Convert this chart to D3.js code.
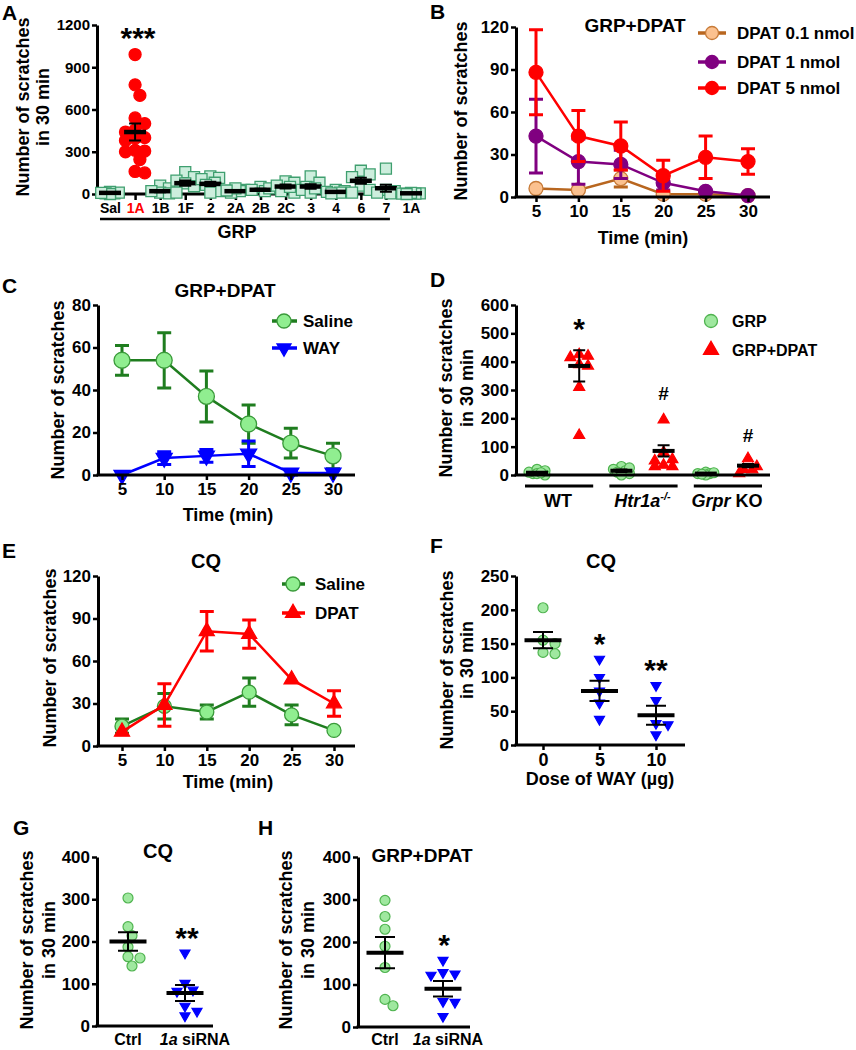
<!DOCTYPE html>
<html>
<head>
<meta charset="utf-8">
<script src="https://cdn.jsdelivr.net/npm/d3@7"></script>
<style>
  body { margin: 0; background: #fff; }
  svg { display: block; font-family: "Liberation Sans", Arial, sans-serif; font-weight: bold; }
</style>
</head>
<body>
<script>
// ---- Panel A: scratches in 30 min per receptor agonist ----
var aCats = ['Sal', '1A', '1B', '1F', '2', '2A', '2B', '2C', '3', '4', '6', '7', '1A']
var aPoints = [
  [5, 10, 15, 5, 0, 8],
  [990, 775, 700, 540, 500, 455, 440, 400, 395, 380, 310, 305, 300, 245, 150, 160],
  [60, 40, 10, 5, 20],
  [155, 120, 95, 75, 55, 10],
  [125, 115, 105, 80, 65, 20, 10],
  [30, 20, 10, 40, 25],
  [50, 30, 20, 40],
  [90, 80, 60, 20, 10, 50],
  [125, 80, 50, 30, 10, 40],
  [30, 20, 10, 15, 5],
  [165, 140, 120, 60, 30, 10],
  [180, 30, 10, 20, 5],
  [5, 3, 2, 8, 0]
]
var aMeans = [8, 440, 20, 77, 72, 20, 30, 53, 53, 15, 94, 41, 5]
var aSems = [4, 60, 8, 18, 15, 6, 8, 14, 16, 5, 22, 25, 2]
var aTicks = [0, 300, 600, 900, 1200]

// ---- Time courses (B, C, E) ----
var times = [5, 10, 15, 20, 25, 30]

var bNames = ['DPAT 0.1 nmol', 'DPAT 1 nmol', 'DPAT 5 nmol']
var bMeans = [[6, 5, 13, 2, 2, 1], [43, 25, 23, 10, 4, 1], [88, 43, 36, 15, 28, 25]]
var bSems = [[0, 0, 6, 0, 0, 0], [26, 16, 10, 5, 1, 0], [30, 18, 17, 11, 15, 9]]
var bTicks = [0, 30, 60, 90, 120]

var cNames = ['Saline', 'WAY']
var cMeans = [[54, 54, 37, 24, 15, 9], [0, 8, 9, 10, 1, 1]]
var cSems = [[7, 13, 12, 9, 7, 6], [0, 3, 3, 6, 1, 0]]
var cTicks = [0, 20, 40, 60, 80]

var eNames = ['Saline', 'DPAT']
var eMeans = [[14, 28, 24, 38, 22, 11], [10, 29, 81, 79, 47, 30]]
var eSems = [[5, 9, 5, 10, 7, 0], [0, 15, 14, 10, 0, 9]]
var eTicks = [0, 30, 60, 90, 120]

// ---- Panel D: genotypes ----
var dNames = ['GRP', 'GRP+DPAT']
var dGrpPoints = [[5, 10, 20, 15, 0, 5, 8], [30, 20, 15, 10, 5, 0, 25], [5, 10, 5, 0, 8, 3]]
var dDpatPoints = [[425, 415, 420, 385, 390, 310, 140], [195, 80, 55, 50, 35, 30, 30], [58, 30, 20, 19, 5]]
var dGrpMeans = [8, 15, 5]
var dGrpSems = [3, 4, 2]
var dDpatMeans = [385, 85, 33]
var dDpatSems = [55, 20, 6]
var dMarks = ['*', '#', '#']
var dTicks = [0, 100, 200, 300, 400, 500, 600]

// ---- Panel F: WAY dose ----
var fDoses = ['0', '5', '10']
var fPoints = [[203, 155, 150, 137, 135], [127, 100, 80, 62, 38], [88, 66, 32, 30, 15]]
var fMeans = [155, 80, 44]
var fSems = [12, 15, 14]
var fMarks = ['', '*', '**']
var fTicks = [0, 50, 100, 150, 200, 250]

// ---- Panels G, H: siRNA ----
var ghCats = ['Ctrl', 'siRNA']
var ghTicks = [0, 100, 200, 300, 400]
var gPoints = [[303, 235, 214, 187, 164, 161, 142], [173, 101, 85, 82, 47, 35, 24]]
var gMeans = [200, 78]
var gSems = [22, 19]
var hPoints = [[298, 260, 230, 190, 140, 65, 50], [157, 128, 125, 122, 60, 58, 25]]
var hMeans = [175, 90]
var hSems = [37, 18]

var GREEN_FILL = '#9fe89f', GREEN_STROKE = '#4fb34f', DARK_GREEN = '#1f7d1f'

var svg = d3.select('body').append('svg').attr('width', 856).attr('height', 1050)

// ---------- helpers ----------
function label(s, x, y, size, anchor) {
  return svg.append('text').attr('x', x).attr('y', y)
    .attr('font-size', size).attr('text-anchor', anchor || 'middle').text(s)
}

// Rotated y title, one or two lines
function yTitle(lines, cx, cy, gap) {
  lines.forEach(function(s, i) {
    svg.append('text')
      .attr('transform', 'translate(' + (cx + i * gap) + ',' + cy + ') rotate(-90)')
      .attr('text-anchor', 'middle').attr('dy', '0.36em')
      .attr('font-size', 18).text(s)
  })
}

function yAxis(y, x0, ticks, size) {
  var g = svg.append('g').attr('transform', 'translate(' + x0 + ',0)')
    .call(d3.axisLeft(y).tickValues(ticks).tickFormat(d3.format('d'))
      .tickSize(5).tickPadding(2).tickSizeOuter(0))
  g.attr('font-family', null).attr('font-size', size || 17)
  g.select('.domain').attr('stroke-width', 3)
  g.selectAll('.tick line').attr('stroke-width', 2.5)
  return g
}

function xLine(x0, x1, y0) {
  svg.append('line').attr('x1', x0 - 1.5).attr('x2', x1).attr('y1', y0).attr('y2', y0)
    .attr('stroke', '#000').attr('stroke-width', 3)
}

function xTicks(x, y0, values, fmt, size, tick) {
  var g = svg.append('g').attr('transform', 'translate(0,' + y0 + ')')
    .call(d3.axisBottom(x).tickValues(values).tickFormat(fmt).tickSize(tick).tickPadding(tick ? 3 : 8))
  g.attr('font-family', null).attr('font-size', size || 17)
  g.select('.domain').remove()
  g.selectAll('.tick line').attr('stroke-width', 2.5)
  return g
}

function sym(shape, r) {
  if (shape == 'circle') return d3.symbol(d3.symbolCircle, Math.PI * r * r)()
  if (shape == 'square') return d3.symbol(d3.symbolSquare, 4 * r * r)()
  return d3.symbol(d3.symbolTriangle, r * r * Math.sqrt(3))()
}

function place(shape, x, y) {
  return 'translate(' + x + ',' + y + ')' + (shape == 'down' ? ' rotate(180)' : '')
}

function errPath(cx, yt, yb, c) {
  return 'M' + (cx - c) + ',' + yt + 'H' + (cx + c) +
    'M' + cx + ',' + yt + 'V' + yb +
    'M' + (cx - c) + ',' + yb + 'H' + (cx + c)
}

// Spread points sideways (scatter-dot layout), never wider than maxW
function dodge(vals, y, r, maxW) {
  var order = vals.map(function(d, i) { return i }).sort(function(a, b) { return vals[b] - vals[a] })
  var placed = [], off = []
  order.forEach(function(i) {
    var py = y(vals[i]), best = 0, bestD = -1
    for (var k = 0; ; k++) {
      var o = (k % 2 ? 1 : -1) * Math.ceil(k / 2) * r * 0.8
      if (Math.abs(o) > maxW) break
      var d = d3.min(placed, function(p) { return Math.hypot(p.x - o, p.y - py) })
      if (d == null) d = Infinity
      if (d >= 1.9 * r) { best = o; bestD = Infinity; break }
      if (d > bestD) { bestD = d; best = o }
    }
    off[i] = best
    placed.push({x: best, y: py})
  })
  return off
}

function drawScatter(cx, y, vals, mean, sem, st) {
  var off = dodge(vals, y, st.r, st.spread || 12)
  svg.append('g').selectAll('path').data(vals).join('path')
    .attr('d', sym(st.shape, st.r))
    .attr('transform', function(d, i) { return place(st.shape, cx + off[i], y(d)) })
    .attr('fill', st.fill).attr('stroke', st.stroke).attr('stroke-width', st.sw || 1.2)
  svg.append('path').attr('d', errPath(cx, y(mean + sem), y(Math.max(0, mean - sem)), st.cap))
    .attr('fill', 'none').attr('stroke', '#000').attr('stroke-width', st.et)
  svg.append('line').attr('x1', cx - st.mw / 2).attr('x2', cx + st.mw / 2)
    .attr('y1', y(mean)).attr('y2', y(mean))
    .attr('stroke', '#000').attr('stroke-width', st.mt)
}

function drawSeries(x, y, vals, sems, st) {
  var g = svg.append('g')
  g.selectAll('path.err').data(vals).join('path').attr('class', 'err')
    .attr('d', function(d, i) {
      return sems[i] ? errPath(x(times[i]), y(d + sems[i]), y(Math.max(0, d - sems[i])), 7) : ''
    })
    .attr('fill', 'none').attr('stroke', st.line).attr('stroke-width', 3)
  g.append('path').datum(vals)
    .attr('fill', 'none').attr('stroke', st.line).attr('stroke-width', 2.5)
    .attr('d', d3.line().x(function(d, i) { return x(times[i]) }).y(function(d) { return y(d) }))
  g.selectAll('path.mk').data(vals).join('path').attr('class', 'mk')
    .attr('d', sym(st.shape, st.r))
    .attr('transform', function(d, i) { return place(st.shape, x(times[i]), y(d)) })
    .attr('fill', st.fill).attr('stroke', st.stroke).attr('stroke-width', 1.3)
}

function legendRow(st, mx, tx, cy, name, lx0, lx1, size) {
  if (lx0 != null) {
    svg.append('line').attr('x1', lx0).attr('x2', lx1).attr('y1', cy).attr('y2', cy)
      .attr('stroke', st.line).attr('stroke-width', 3.5)
  }
  svg.append('path').attr('d', sym(st.shape, st.lr || st.r)).attr('transform', place(st.shape, mx, cy))
    .attr('fill', st.fill).attr('stroke', st.stroke).attr('stroke-width', 1.3)
  label(name, tx, cy, size || 17, 'start').attr('dy', '0.36em')
}

// ---------- Panel A ----------
label('A', 2, 20, 21, 'start')
var aY = d3.scaleLinear().domain([0, 1200]).range([194, 25])
var aX = d3.scalePoint().domain(d3.range(aCats.length)).range([110, 411])
yAxis(aY, 97, aTicks, 15)
var aAxis = xTicks(aX, 194, d3.range(aCats.length), function(i) { return aCats[i] }, 14, 6)
aAxis.selectAll('.tick text').filter(function(d) { return d == 1 }).attr('fill', '#ff0000')
xLine(97, 421, 194)
aPoints.forEach(function(vals, i) {
  var red = i == 1
  drawScatter(aX(i), aY, vals, aMeans[i], aSems[i], {
    shape: red ? 'circle' : 'square', r: red ? 6 : 5.5, spread: red ? 13 : 11,
    fill: red ? '#ff0000' : '#cdeedd', stroke: red ? '#ff0000' : '#3f9f6f', sw: 1.3,
    mw: 22, mt: 4.5, cap: 6, et: 2
  })
})
label('***', 138, 48, 30)
svg.append('line').attr('x1', aX(0) - 10).attr('x2', aX(11) + 4).attr('y1', 219).attr('y2', 219)
  .attr('stroke', '#000').attr('stroke-width', 2.5)
label('GRP', 237, 238, 18)
yTitle(['Number of scratches', 'in 30 min'], 23, 107, 20)

// ---------- Panel B ----------
label('B', 430, 19, 21, 'start')
var bY = d3.scaleLinear().domain([0, 120]).range([197, 27])
var bX = d3.scaleLinear().domain([5, 30]).range([536, 748])
var bStyles = [
  {line: '#b8661f', fill: '#fbc18f', stroke: '#c77a37', shape: 'circle', r: 7, lr: 6.5},
  {line: '#800080', fill: '#800080', stroke: '#800080', shape: 'circle', r: 7, lr: 6.5},
  {line: '#ff0000', fill: '#ff0000', stroke: '#ff0000', shape: 'circle', r: 7, lr: 6.5}
]
bMeans.forEach(function(v, i) { drawSeries(bX, bY, v, bSems[i], bStyles[i]) })
yAxis(bY, 516, bTicks)
xTicks(bX, 197, times, d3.format('d'), 17, 5)
xLine(516, 770, 197)
label('GRP+DPAT', 635, 32, 19)
var bRows = [33, 62, 88]
bNames.forEach(function(n, i) { legendRow(bStyles[i], 712, 737, bRows[i], n, 698, 726) })
label('Time (min)', 643, 244, 18)
yTitle(['Number of scratches'], 461, 111, 0)

// ---------- Panel C ----------
label('C', 2, 293, 21, 'start')
var cY = d3.scaleLinear().domain([0, 80]).range([475, 305])
var cX = d3.scaleLinear().domain([5, 30]).range([122, 333])
var cStyles = [
  {line: DARK_GREEN, fill: '#90ee90', stroke: '#3a9a3a', shape: 'circle', r: 8, lr: 7},
  {line: '#0000ff', fill: '#0000ff', stroke: '#0000ff', shape: 'down', r: 8, lr: 7}
]
cMeans.forEach(function(v, i) { drawSeries(cX, cY, v, cSems[i], cStyles[i]) })
yAxis(cY, 98, cTicks)
xTicks(cX, 475, times, d3.format('d'), 17, 5)
xLine(98, 355, 475)
label('GRP+DPAT', 225, 297, 19)
var cRows = [321, 348]
cNames.forEach(function(n, i) { legendRow(cStyles[i], 284, 303, cRows[i], n, 272, 297) })
label('Time (min)', 228, 521, 18)
yTitle(['Number of scratches'], 58, 390, 0)

// ---------- Panel D ----------
label('D', 430, 287, 21, 'start')
var dY = d3.scaleLinear().domain([0, 600]).range([475, 305])
var dX = d3.scalePoint().domain(d3.range(6)).range([537, 748])
var grpStyle = {shape: 'circle', r: 5, spread: 10, fill: GREEN_FILL, stroke: GREEN_STROKE, mw: 22, mt: 4, cap: 6, et: 2}
var dpatStyle = {shape: 'up', r: 5.5, spread: 11, fill: '#ff0000', stroke: '#ff0000', mw: 22, mt: 4, cap: 6, et: 2}
dGrpPoints.forEach(function(v, i) {
  drawScatter(dX(2 * i), dY, v, dGrpMeans[i], dGrpSems[i], grpStyle)
  drawScatter(dX(2 * i + 1), dY, dDpatPoints[i], dDpatMeans[i], dDpatSems[i], dpatStyle)
})
yAxis(dY, 516, dTicks)
xLine(516, 770, 475)
var dMarkY = [339, 400, 442]
dMarks.forEach(function(m, i) {
  if (m == '*') label(m, dX(2 * i + 1), dMarkY[i], 30)
  else label(m, dX(2 * i + 1), dMarkY[i], 19)
})
d3.range(3).forEach(function(i) {
  svg.append('line').attr('x1', dX(2 * i) - 12).attr('x2', dX(2 * i + 1) + 14)
    .attr('y1', 486).attr('y2', 486).attr('stroke', '#000').attr('stroke-width', 3)
})
label('WT', (dX(0) + dX(1)) / 2, 507, 18)
var htr = label('', (dX(2) + dX(3)) / 2, 507, 18)
htr.append('tspan').attr('font-style', 'italic').text('Htr1a')
htr.append('tspan').attr('font-style', 'italic').attr('font-size', 11).attr('dy', -7).text('-/-')
var grpr = label('', (dX(4) + dX(5)) / 2, 507, 18)
grpr.append('tspan').attr('font-style', 'italic').text('Grpr')
grpr.append('tspan').text(' KO')
legendRow({shape: 'circle', r: 6.5, fill: GREEN_FILL, stroke: GREEN_STROKE}, 711, 732, 321, dNames[0], null, null, 16)
legendRow({shape: 'up', r: 7.5, fill: '#ff0000', stroke: '#ff0000'}, 711, 732, 350, dNames[1], null, null, 16)
yTitle(['Number of scratches', 'in 30 min'], 446, 388, 21)

// ---------- Panel E ----------
label('E', 2, 558, 21, 'start')
var eY = d3.scaleLinear().domain([0, 120]).range([746, 576])
var eX = d3.scaleLinear().domain([5, 30]).range([122, 334])
var eStyles = [
  {line: DARK_GREEN, fill: '#90ee90', stroke: '#3a9a3a', shape: 'circle', r: 7, lr: 7},
  {line: '#ff0000', fill: '#ff0000', stroke: '#ff0000', shape: 'up', r: 7.5, lr: 7.5}
]
eMeans.forEach(function(v, i) { drawSeries(eX, eY, v, eSems[i], eStyles[i]) })
yAxis(eY, 98, eTicks)
xTicks(eX, 746, times, d3.format('d'), 17, 5)
xLine(98, 355, 746)
label('CQ', 206, 568, 20)
var eRows = [584, 613]
eNames.forEach(function(n, i) { legendRow(eStyles[i], 293, 315, eRows[i], n, 282, 305) })
label('Time (min)', 228, 788, 18)
yTitle(['Number of scratches'], 50, 658, 0)

// ---------- Panel F ----------
label('F', 430, 553, 21, 'start')
var fY = d3.scaleLinear().domain([0, 250]).range([745, 576])
var fX = d3.scalePoint().domain(fDoses).range([543, 656])
fPoints.forEach(function(v, i) {
  drawScatter(fX(fDoses[i]), fY, v, fMeans[i], fSems[i], i == 0
    ? {shape: 'circle', r: 5, fill: GREEN_FILL, stroke: GREEN_STROKE, mw: 37, mt: 4, cap: 10, et: 2}
    : {shape: 'down', r: 5, fill: '#0000ff', stroke: '#0000ff', mw: 37, mt: 4, cap: 10, et: 2})
})
yAxis(fY, 516, fTicks)
xTicks(fX, 745, fDoses, null, 18, 5)
xLine(516, 685, 745)
fMarks.forEach(function(m, i) {
  if (m) label(m, fX(fDoses[i]), [0, 654, 680][i], 30)
})
label('CQ', 601, 568, 20)
label('Dose of WAY (\u00b5g)', 600, 785, 18)
yTitle(['Number of scratches', 'in 30 min'], 447, 660, 20)

// ---------- Panels G & H ----------
function siPanel(o) {
  label(o.letter, o.lx, 835, 21, 'start')
  var y = d3.scaleLinear().domain([0, 400]).range([o.y0, 857])
  o.points.forEach(function(v, i) {
    drawScatter(o.cols[i], y, v, o.means[i], o.sems[i], i == 0
      ? {shape: 'circle', r: 5, fill: GREEN_FILL, stroke: GREEN_STROKE, mw: 37, mt: 4, cap: 10, et: 2}
      : {shape: 'down', r: 5, fill: '#0000ff', stroke: '#0000ff', mw: 37, mt: 4, cap: 10, et: 2})
  })
  yAxis(y, o.ax, ghTicks)
  xLine(o.ax, o.x1, o.y0)
  label(ghCats[0], o.cols[0], 1045, 16)
  var t = label('', o.cols[1] + o.dx, 1045, 16)
  t.append('tspan').attr('font-style', 'italic').text('1a ')
  t.append('tspan').text(ghCats[1])
  label(o.title, o.tx, o.ty, o.title == 'CQ' ? 20 : 19)
  label(o.mark, o.cols[1] + o.mdx, o.my, 30)
  yTitle(['Number of scratches', 'in 30 min'], o.yt, 940, 22)
}
siPanel({letter: 'G', lx: 13, y0: 1026, ax: 97, x1: 213, cols: [128, 185], dx: 10,
  points: gPoints, means: gMeans, sems: gSems, title: 'CQ', tx: 158, ty: 858,
  mark: '**', mdx: 2, my: 948, yt: 27})
siPanel({letter: 'H', lx: 258, y0: 1027, ax: 358, x1: 470, cols: [385, 443], dx: 5,
  points: hPoints, means: hMeans, sems: hSems, title: 'GRP+DPAT', tx: 422, ty: 862,
  mark: '*', mdx: 1, my: 955, yt: 286})
</script>
</body>
</html>
